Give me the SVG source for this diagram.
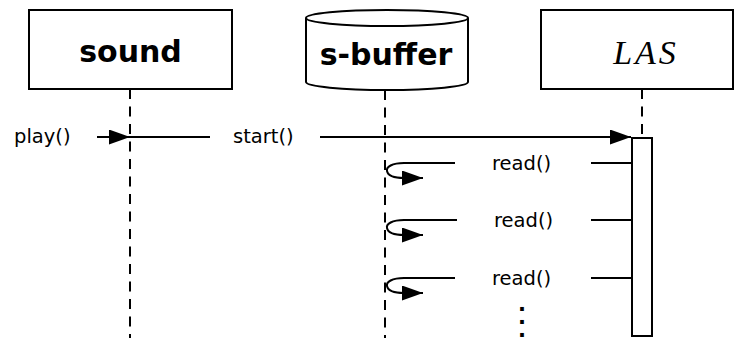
<svg xmlns="http://www.w3.org/2000/svg" width="734" height="338" viewBox="0 0 734 338">
<style>
.box{fill:#fff;stroke:#000;stroke-width:2}
.life{stroke:#000;stroke-width:2;stroke-dasharray:10 7.5;fill:none}
.msg{stroke:#000;stroke-width:2;fill:none}
.head{font-family:"DejaVu Sans",Verdana,sans-serif;font-weight:bold;font-size:30px;text-anchor:middle}
.lbl{font-family:"DejaVu Sans",Verdana,sans-serif;font-size:19.5px}
.math{font-family:"Liberation Serif","Times New Roman",serif;font-style:italic;font-size:34px;text-anchor:middle;letter-spacing:3px}
.dots{font-family:"DejaVu Sans",Verdana,sans-serif;font-weight:bold;font-size:21px;text-anchor:middle}
</style>
<defs>
<marker id="ah" markerUnits="userSpaceOnUse" markerWidth="22" markerHeight="16" refX="21" refY="7.5" orient="auto">
<path d="M0,0 L21,7.5 L0,15 Z" fill="#000"/>
</marker>
</defs>
<g id="connectors">
<line class="life" x1="130" y1="89" x2="130" y2="338"/>
<line class="life" x1="385" y1="90" x2="385" y2="338"/>
<line class="life" x1="642" y1="89" x2="642" y2="138"/>
<line class="msg" x1="97" y1="137" x2="130" y2="137" marker-end="url(#ah)"/>
<line class="msg" x1="130" y1="137" x2="210" y2="137"/>
<line class="msg" x1="320" y1="137" x2="631" y2="137" marker-end="url(#ah)"/>
<line class="msg" x1="591" y1="163" x2="632" y2="163"/>
<path class="msg" d="M455,163 L404,163 C392,163 386,167 387,171 C388,176 395,178 404,178 L423,178" marker-end="url(#ah)"/>
<line class="msg" x1="591" y1="220" x2="632" y2="220"/>
<path class="msg" d="M457,220 L404,220 C392,220 386,224 387,228 C388,233 395,235 404,235 L423,235" marker-end="url(#ah)"/>
<line class="msg" x1="591" y1="278" x2="632" y2="278"/>
<path class="msg" d="M455,278 L404,278 C392,278 386,282 387,286 C388,291 395,293 404,293 L423,293" marker-end="url(#ah)"/>
</g>
<g id="sound">
<rect class="box" x="29" y="10" width="203" height="79"/>
<text class="head" x="130.5" y="62">sound</text>
</g>
<g id="s-buffer">
<path class="box" d="M306,18 L306,82 A81,8 0 0 0 468,82 L468,18 A81,8 0 0 0 306,18 Z"/>
<path class="msg" d="M306,18 A81,8 0 0 0 468,18"/>
<text class="head" x="386" y="65">s-buffer</text>
</g>
<g id="LAS">
<rect class="box" x="541" y="10" width="192" height="79"/>
<text class="math" x="646" y="64">LAS</text>
</g>
<g id="activation">
<rect class="box" x="632" y="138" width="20" height="198"/>
</g>
<g id="labels">
<text class="lbl" x="14" y="143">play()</text>
<text class="lbl" x="233" y="143">start()</text>
<text class="lbl" x="492" y="170">read()</text>
<text class="lbl" x="494" y="227">read()</text>
<text class="lbl" x="492" y="285">read()</text>
<text class="dots" x="522" y="311">.<tspan x="522" dy="12.5">.</tspan><tspan x="522" dy="13">.</tspan></text>
</g>
</svg>
